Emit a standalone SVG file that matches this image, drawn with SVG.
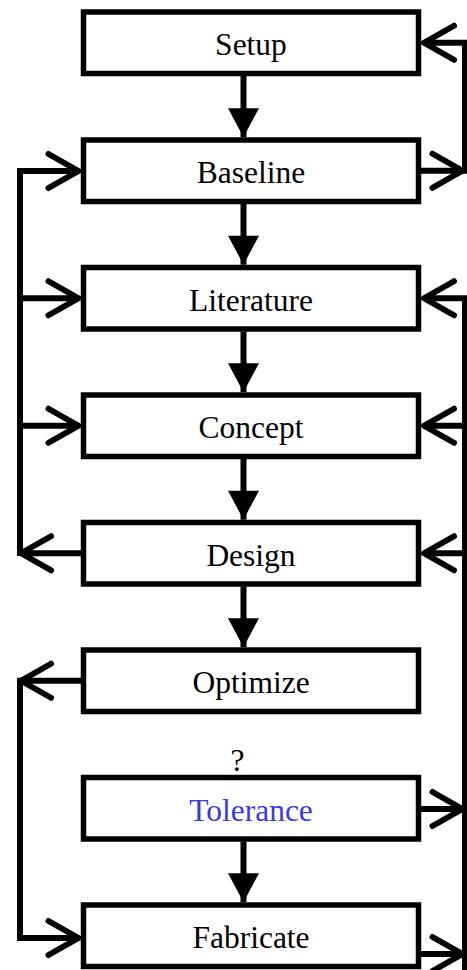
<svg xmlns="http://www.w3.org/2000/svg" width="467" height="970" viewBox="0 0 467 970">
<style>
.box{fill:#fff;stroke:#000;stroke-width:5.5}
.lbl{font-family:"Liberation Serif","Times New Roman",serif;font-size:31.5px;fill:#000;text-anchor:middle}
.blue{fill:#3c3cd2}
.ln{fill:none;stroke:#000;stroke-width:6;stroke-linejoin:miter}
.op{marker-end:url(#open)}
.so{marker-end:url(#solid)}
</style>
<defs>
<marker id="open" markerUnits="userSpaceOnUse" orient="auto" refX="0" refY="0" markerWidth="80" markerHeight="80" viewBox="-40 -40 80 80" overflow="visible">
<path d="M-30,-17 L0,0 L-30,17" fill="none" stroke="#000" stroke-width="6" stroke-linecap="round" stroke-linejoin="round"/>
</marker>
<marker id="solid" markerUnits="userSpaceOnUse" orient="auto" refX="0" refY="0" markerWidth="80" markerHeight="80" viewBox="-40 -40 80 80" overflow="visible">
<path d="M-29,-15.5 L0,0 L-29,15.5 Z" fill="#000"/>
</marker>
</defs>
<rect width="467" height="970" fill="#fff"/>
<g id="connectors">
<!-- vertical flow arrows -->
<path class="ln so" d="M243.5,76 V137.2"/>
<path class="ln so" d="M243.5,204 V264.7"/>
<path class="ln so" d="M243.5,331.5 V392.2"/>
<path class="ln so" d="M243.5,459 V519.7"/>
<path class="ln so" d="M243.5,586.5 V647.2"/>
<path class="ln so" d="M243.5,841.5 V902.2"/>
<!-- right top loop: Baseline -> Setup -->
<path class="ln op" d="M421,170.75 H462.5"/>
<path class="ln op" d="M465,173.75 V42.75 H424"/>
<!-- left top loop: Design -> Baseline / Literature / Concept -->
<path class="ln op" d="M81,553.25 H21"/>
<path class="ln op" d="M20,556 V171 H78.5"/>
<path class="ln op" d="M20,298.25 H78.5"/>
<path class="ln op" d="M20,425.75 H78.5"/>
<!-- left bottom loop: Optimize -> Fabricate -->
<path class="ln op" d="M81,680.75 H21"/>
<path class="ln op" d="M20,677.75 V938 H78.5"/>
<!-- right bottom loop: Tolerance / Fabricate -> Literature / Concept / Design -->
<path class="ln op" d="M465,975 V298.25 H424"/>
<path class="ln op" d="M465,425.75 H424"/>
<path class="ln op" d="M465,553.25 H424"/>
<path class="ln op" d="M421,809 H462.5"/>
<path class="ln op" d="M421,954 H462.5"/>
</g>
<g id="setup"><rect class="box" x="83.5" y="12" width="335" height="61.5"/><text class="lbl" x="251" y="55">Setup</text></g>
<g id="baseline"><rect class="box" x="83.5" y="140" width="335" height="61.5"/><text class="lbl" x="251" y="183">Baseline</text></g>
<g id="literature"><rect class="box" x="83.5" y="267.5" width="335" height="61.5"/><text class="lbl" x="251" y="310.5">Literature</text></g>
<g id="concept"><rect class="box" x="83.5" y="395" width="335" height="61.5"/><text class="lbl" x="251" y="438">Concept</text></g>
<g id="design"><rect class="box" x="83.5" y="522.5" width="335" height="61.5"/><text class="lbl" x="251" y="565.5">Design</text></g>
<g id="optimize"><rect class="box" x="83.5" y="650" width="335" height="61.5"/><text class="lbl" x="251" y="693">Optimize</text></g>
<g id="question"><text class="lbl" x="237.5" y="770.5">?</text></g>
<g id="tolerance"><rect class="box" x="83.5" y="777.5" width="335" height="61.5"/><text class="lbl blue" x="251" y="821">Tolerance</text></g>
<g id="fabricate"><rect class="box" x="83.5" y="905" width="335" height="61.5"/><text class="lbl" x="251" y="948">Fabricate</text></g>
</svg>
